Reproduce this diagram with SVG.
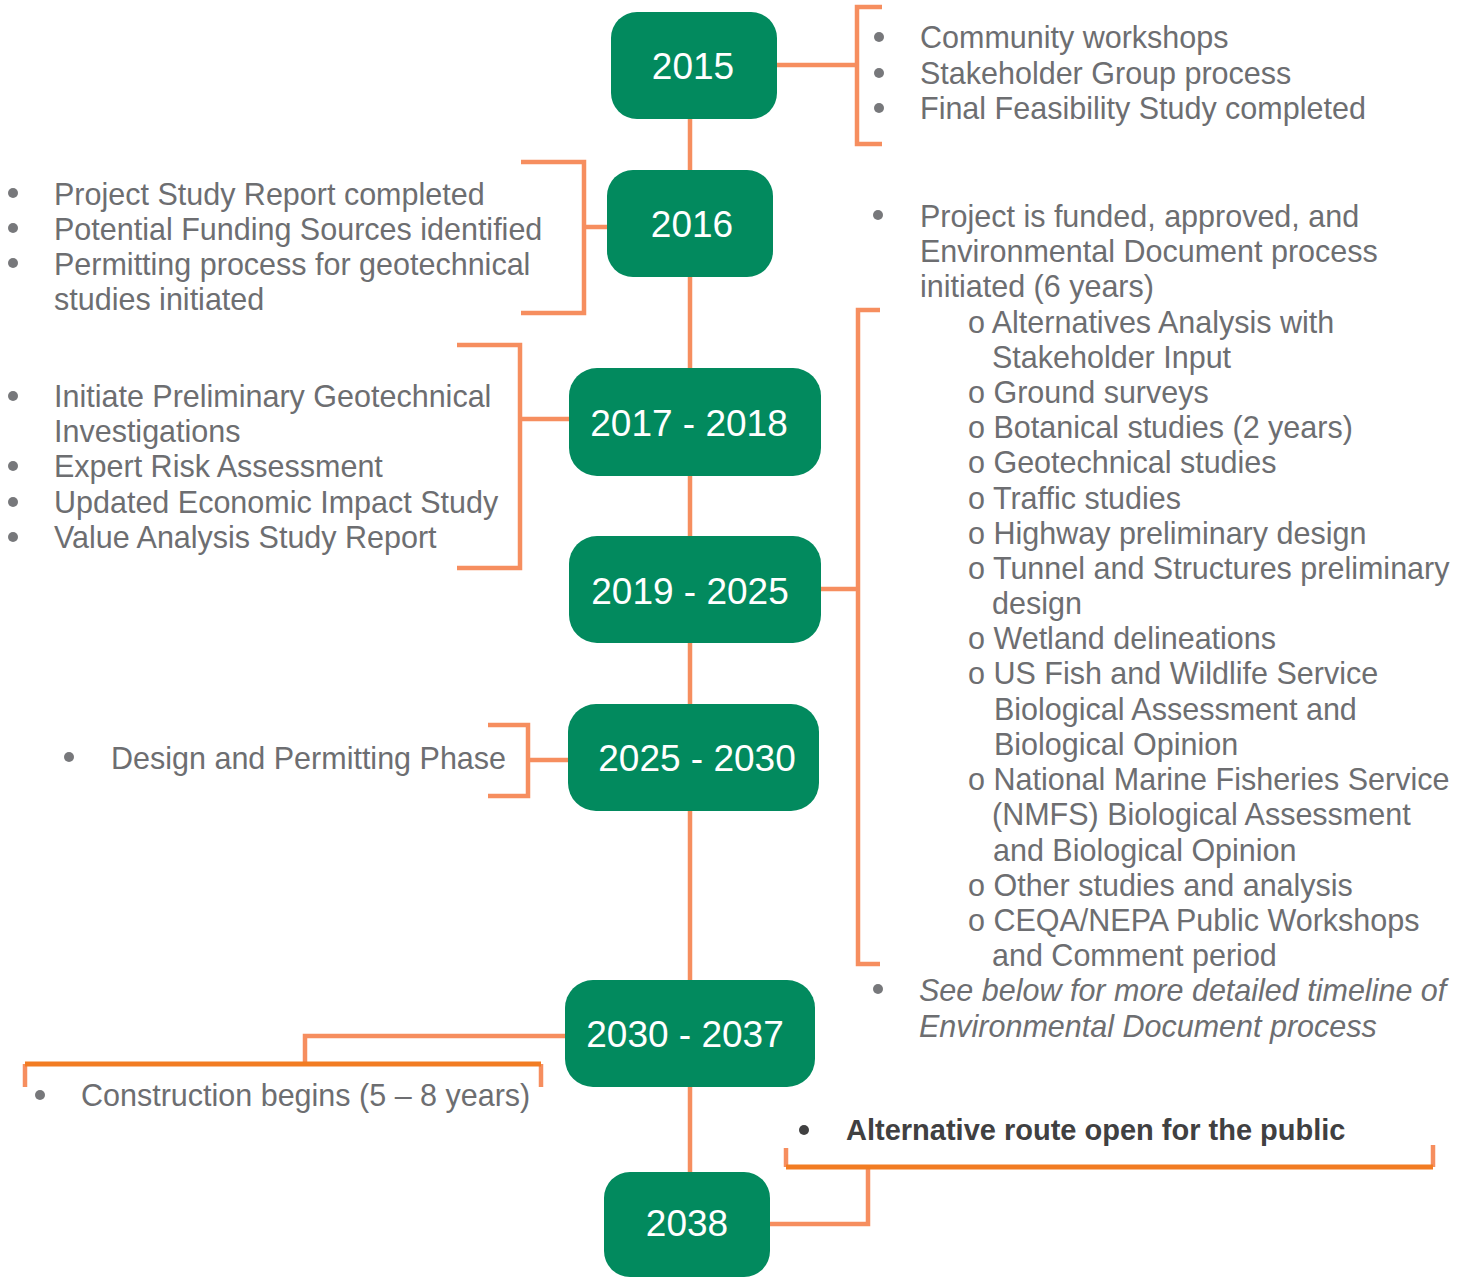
<svg xmlns="http://www.w3.org/2000/svg" width="1473" height="1278" viewBox="0 0 1473 1278">
<style>
.bg{fill:#ffffff}
.box{fill:#028A5E}
.yr{fill:#ffffff;font-family:"Liberation Sans",Arial,sans-serif;font-size:37px;text-anchor:middle}
.t{fill:#6D6E71;font-family:"Liberation Sans",Arial,sans-serif;font-size:30.5px}
.ti{fill:#6D6E71;font-family:"Liberation Sans",Arial,sans-serif;font-size:30.5px;font-style:italic}
.tb{fill:#404041;font-family:"Liberation Sans",Arial,sans-serif;font-size:29px;font-weight:bold}
.dot{fill:#77787B}
.dotd{fill:#404041}
.c{fill:none;stroke:#F68E5F;stroke-width:4.5}
.cd{fill:none;stroke:#F27C22;stroke-width:5}
</style>
<rect class="bg" x="0" y="0" width="1473" height="1278"/>
<g id="connectors">
<line class="c" x1="690" y1="115" x2="690" y2="1175"/>
<path class="c" d="M777 65 H857"/>
<path class="c" d="M882 7 H857 V144 H882"/>
<path class="c" d="M607 227 H584"/>
<path class="c" d="M521 162 H584 V313 H521"/>
<path class="c" d="M569 419 H520"/>
<path class="c" d="M457 345 H520 V568 H457"/>
<path class="c" d="M821 589 H858"/>
<path class="c" d="M880 310 H858 V964 H880"/>
<path class="c" d="M568 760 H528"/>
<path class="c" d="M488 725 H528 V796 H488"/>
<path class="c" d="M565 1036 H305 V1064"/>
<path class="c" d="M25 1064 V1087"/>
<path class="c" d="M541 1064 V1087"/>
<path class="cd" d="M25 1064 H541"/>
<path class="c" d="M770 1224 H868 V1167"/>
<path class="c" d="M786 1148 V1167"/>
<path class="c" d="M1433 1145 V1167"/>
<path class="cd" d="M786 1167 H1433"/>
</g>
<g id="n2015">
<rect class="box" x="611" y="12" width="166" height="107" rx="26"/>
<text class="yr" x="693" y="79">2015</text>
</g>
<g id="n2016">
<rect class="box" x="607" y="170" width="166" height="107" rx="26"/>
<text class="yr" x="692" y="237">2016</text>
</g>
<g id="n2017">
<rect class="box" x="569" y="368" width="252" height="108" rx="28"/>
<text class="yr" x="689" y="436">2017 - 2018</text>
</g>
<g id="n2019">
<rect class="box" x="569" y="536" width="252" height="107" rx="28"/>
<text class="yr" x="690" y="604">2019 - 2025</text>
</g>
<g id="n2025">
<rect class="box" x="568" y="704" width="251" height="107" rx="28"/>
<text class="yr" x="697" y="771">2025 - 2030</text>
</g>
<g id="n2030">
<rect class="box" x="565" y="980" width="250" height="107" rx="28"/>
<text class="yr" x="685" y="1047">2030 - 2037</text>
</g>
<g id="n2038">
<rect class="box" x="604" y="1172" width="166" height="105" rx="26"/>
<text class="yr" x="687" y="1236">2038</text>
</g>
<g id="notes2015">
<circle class="dot" cx="879" cy="37" r="5"/>
<circle class="dot" cx="879" cy="73" r="5"/>
<circle class="dot" cx="879" cy="108" r="5"/>
<text class="t" x="920" y="48">Community workshops</text>
<text class="t" x="920" y="84">Stakeholder Group process</text>
<text class="t" x="920" y="119">Final Feasibility Study completed</text>
</g>
<g id="notes2016">
<circle class="dot" cx="13" cy="193" r="5"/>
<circle class="dot" cx="13" cy="228" r="5"/>
<circle class="dot" cx="13" cy="263" r="5"/>
<text class="t" x="54" y="205">Project Study Report completed</text>
<text class="t" x="54" y="240">Potential Funding Sources identified</text>
<text class="t" x="54" y="275">Permitting process for geotechnical</text>
<text class="t" x="54" y="310">studies initiated</text>
</g>
<g id="notes2017">
<circle class="dot" cx="13" cy="396" r="5"/>
<circle class="dot" cx="13" cy="466" r="5"/>
<circle class="dot" cx="13" cy="502" r="5"/>
<circle class="dot" cx="13" cy="537" r="5"/>
<text class="t" x="54" y="407">Initiate Preliminary Geotechnical</text>
<text class="t" x="54" y="442">Investigations</text>
<text class="t" x="54" y="477">Expert Risk Assessment</text>
<text class="t" x="54" y="513">Updated Economic Impact Study</text>
<text class="t" x="54" y="548">Value Analysis Study Report</text>
</g>
<g id="notes2019">
<circle class="dot" cx="878" cy="215" r="5"/>
<text class="t" x="920" y="227">Project is funded, approved, and</text>
<text class="t" x="920" y="262">Environmental Document process</text>
<text class="t" x="920" y="297">initiated (6 years)</text>
<text class="t" x="968" y="333">o Alternatives Analysis with</text>
<text class="t" x="992" y="368">Stakeholder Input</text>
<text class="t" x="968" y="403">o Ground surveys</text>
<text class="t" x="968" y="438">o Botanical studies (2 years)</text>
<text class="t" x="968" y="473">o Geotechnical studies</text>
<text class="t" x="968" y="509">o Traffic studies</text>
<text class="t" x="968" y="544">o Highway preliminary design</text>
<text class="t" x="968" y="579">o Tunnel and Structures preliminary</text>
<text class="t" x="992" y="614">design</text>
<text class="t" x="968" y="649">o Wetland delineations</text>
<text class="t" x="968" y="684">o US Fish and Wildlife Service</text>
<text class="t" x="994" y="720">Biological Assessment and</text>
<text class="t" x="994" y="755">Biological Opinion</text>
<text class="t" x="968" y="790">o National Marine Fisheries Service</text>
<text class="t" x="992" y="825">(NMFS) Biological Assessment</text>
<text class="t" x="993" y="861">and Biological Opinion</text>
<text class="t" x="968" y="896">o Other studies and analysis</text>
<text class="t" x="968" y="931">o CEQA/NEPA Public Workshops</text>
<text class="t" x="992" y="966">and Comment period</text>
<circle class="dot" cx="878" cy="989" r="5"/>
<text class="ti" x="919" y="1001">See below for more detailed timeline of</text>
<text class="ti" x="919" y="1037">Environmental Document process</text>
</g>
<g id="notes2025">
<circle class="dot" cx="69" cy="757" r="5"/>
<text class="t" x="111" y="769">Design and Permitting Phase</text>
</g>
<g id="notes2030">
<circle class="dot" cx="40" cy="1095" r="5"/>
<text class="t" x="81" y="1106">Construction begins (5 – 8 years)</text>
</g>
<g id="notes2038">
<circle class="dotd" cx="804" cy="1130" r="5"/>
<text class="tb" x="846" y="1140">Alternative route open for the public</text>
</g>
</svg>
